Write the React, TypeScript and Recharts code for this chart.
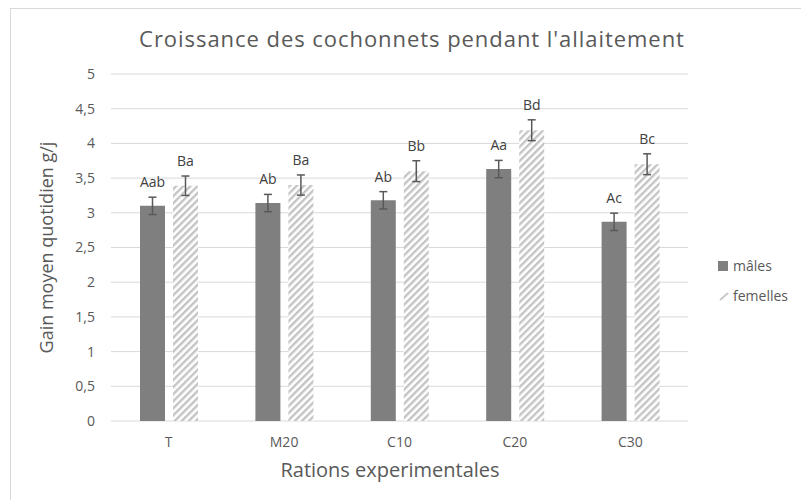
import React from 'react';
import { BarChart, Bar, XAxis, YAxis, CartesianGrid, ErrorBar, LabelList, Legend, Label } from 'recharts';

const categories = ['T', 'M20', 'C10', 'C20', 'C30'];
const males = [3.1, 3.14, 3.18, 3.63, 2.87];
const malesErr = [0.125, 0.125, 0.125, 0.125, 0.125];
const malesLabels = ['Aab', 'Ab', 'Ab', 'Aa', 'Ac'];
const femelles = [3.39, 3.4, 3.6, 4.19, 3.7];
const femellesErr = [0.14, 0.145, 0.15, 0.15, 0.15];
const femellesLabels = ['Ba', 'Ba', 'Bb', 'Bd', 'Bc'];
const yTicks = [0, 0.5, 1, 1.5, 2, 2.5, 3, 3.5, 4, 4.5, 5];
const boundaryTicks = [0, 1, 2, 3, 4, 5];

const data = categories.map((c, i) => ({
  cat: c,
  males: males[i],
  mErr: malesErr[i],
  mLab: malesLabels[i],
  femelles: femelles[i],
  fErr: femellesErr[i],
  fLab: femellesLabels[i],
}));

const FONT = '"Open Sans", "DejaVu Sans", sans-serif';

const makeLabel = (vals: number[], errs: number[]) => (props: any) => {
  const { x, y, width, height, value, index } = props;
  const perUnit = height / vals[index];
  const errTop = y - errs[index] * perUnit;
  return (
    <text
      x={x + width / 2}
      y={errTop - 10}
      textAnchor="middle"
      fill="#404040"
      fontSize={14}
      fontFamily={FONT}
    >
      {value}
    </text>
  );
};

const LegendContent = () => (
  <div style={{ fontFamily: FONT, fontSize: 14, color: '#595959', lineHeight: '30px' }}>
    <div style={{ display: 'flex', alignItems: 'center' }}>
      <svg width={14} height={12} style={{ marginRight: 3 }}>
        <rect x={2} y={1} width={10} height={10} fill="#7f7f7f" />
      </svg>
      <span>mâles</span>
    </div>
    <div style={{ display: 'flex', alignItems: 'center' }}>
      <svg width={14} height={12} style={{ marginRight: 3 }}>
        <line x1={4} y1={10} x2={12} y2={3} stroke="#c8c8c8" strokeWidth={2} />
      </svg>
      <span>femelles</span>
    </div>
  </div>
);

export default function App() {
  return (
    <div style={{ position: 'absolute', left: 0, top: 0, width: 801, height: 500, overflow: 'hidden', background: '#fff' }}>
      <div
        style={{
          position: 'absolute',
          left: 10,
          top: 8,
          width: 830,
          height: 530,
          border: '1px solid #d9d9d9',
        }}
      />
      <div
        style={{
          position: 'absolute',
          left: 0,
          top: 24,
          width: 824,
          textAlign: 'center',
          fontFamily: FONT,
          fontSize: 22,
          letterSpacing: '0.95px',
          color: '#595959',
          lineHeight: '28px',
        }}
      >
        Croissance des cochonnets pendant l'allaitement
      </div>
      <div style={{ position: 'absolute', left: 0, top: 0 }}>
        <BarChart
          width={801}
          height={500}
          data={data}
          margin={{ top: 74, right: 113, bottom: 29, left: 0 }}
          barSize={25}
          barGap={8}
        >
          <defs>
            <pattern id="hatch" patternUnits="userSpaceOnUse" width={5} height={5} patternTransform="rotate(45)">
              <rect x={0} y={0} width={5} height={5} fill="#ffffff" />
              <rect x={0} y={0} width={2.4} height={5} fill="#c4c4c4" />
            </pattern>
          </defs>
          <CartesianGrid vertical={false} stroke="#d9d9d9" />
          <XAxis
            xAxisId="bounds"
            type="number"
            domain={[0, 5]}
            ticks={boundaryTicks}
            tick={false}
            tickSize={4}
            height={0}
            stroke="#d9d9d9"
            allowDataOverflow
          />
          <XAxis
            dataKey="cat"
            axisLine={false}
            tickLine={false}
            tickSize={0}
            tickMargin={16}
            height={50}
            tick={{ fill: '#595959', fontSize: 14, fontFamily: FONT }}
          >
            <Label
              content={(p: any) => (
                <text
                  x={390}
                  y={477}
                  textAnchor="middle"
                  fill="#595959"
                  fontSize={20}
                  fontFamily={FONT}
                >
                  Rations experimentales
                </text>
              )}
            />
          </XAxis>
          <YAxis
            domain={[0, 5]}
            ticks={yTicks}
            interval={0}
            axisLine={false}
            tickLine={false}
            tickSize={0}
            tickMargin={16}
            width={111}
            tickFormatter={(v: number) => String(v).replace('.', ',')}
            tick={{ fill: '#595959', fontSize: 14, fontFamily: FONT }}
          >
            <Label
              content={(p: any) => {
                const vb = p.viewBox || { y: 74, height: 347 };
                const cy = vb.y + vb.height / 2;
                return (
                  <text
                    x={46}
                    y={cy}
                    transform={`rotate(-90 46 ${cy})`}
                    textAnchor="middle"
                    dominantBaseline="central"
                    fill="#595959"
                    fontSize={18}
                    fontFamily={FONT}
                  >
                    Gain moyen quotidien g/j
                  </text>
                );
              }}
            />
          </YAxis>
          <Legend
            layout="vertical"
            align="center"
            verticalAlign="middle"
            content={<LegendContent />}
            wrapperStyle={{ left: 716, top: 251, width: 90, height: 60 }}
          />
          <Bar dataKey="males" name="mâles" fill="#7f7f7f" isAnimationActive={false}>
            <ErrorBar dataKey="mErr" width={4} stroke="#595959" strokeWidth={1.5} direction="y" />
            <LabelList dataKey="mLab" content={makeLabel(males, malesErr)} />
          </Bar>
          <Bar dataKey="femelles" name="femelles" fill="url(#hatch)" isAnimationActive={false}>
            <ErrorBar dataKey="fErr" width={4} stroke="#595959" strokeWidth={1.5} direction="y" />
            <LabelList dataKey="fLab" content={makeLabel(femelles, femellesErr)} />
          </Bar>
        </BarChart>
      </div>
    </div>
  );
}
